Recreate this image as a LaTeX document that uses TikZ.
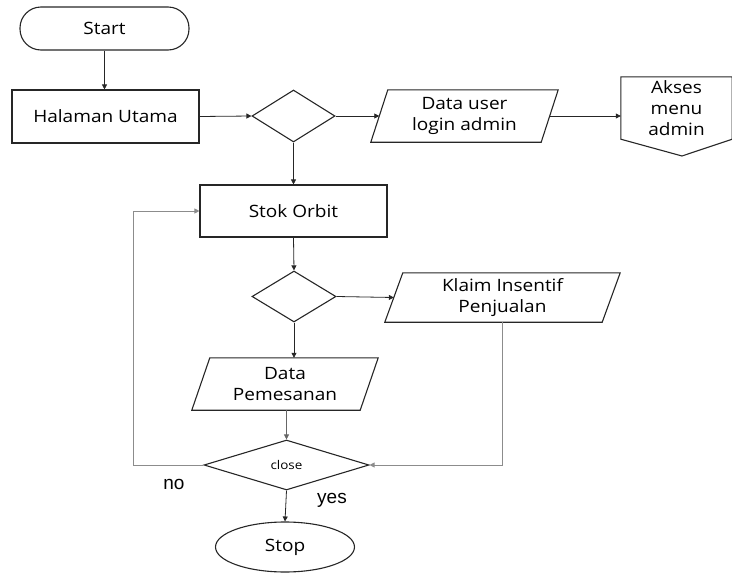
\documentclass[tikz,border=0pt]{standalone}
\usepackage{fontspec}
\setmainfont{Open Sans}[FakeStretch=1.12]
\newfontfamily\arialf{Liberation Sans}
\usetikzlibrary{shapes.geometric,arrows.meta}
\begin{document}
\begin{tikzpicture}[x=1pt,y=-1pt,
  every node/.style={font=\fontsize{17}{21}\selectfont, align=center, inner sep=0pt},
  shp/.style={draw=black!85, line width=1.1pt},
  conn/.style={draw=black!85, line width=0.8pt, -{Triangle[length=5pt,width=5pt]}},
  gconn/.style={draw=black!45, line width=0.8pt},
  dia/.style={shp, diamond},
  paratext/.style={rectangle}]
\useasboundingbox (0,0) rectangle (732,573);

\node[shp, rectangle, rounded corners=21pt, minimum width=169pt, minimum height=43pt] (start) at (104.5,28.5) {Start};
\node[shp, rectangle, minimum width=187pt, minimum height=53pt] (hal) at (105.5,116.5) {Halaman Utama};
\node[dia, minimum width=83pt, minimum height=52pt] (d1) at (293.5,116) {};

\node[paratext, minimum width=170pt, minimum height=52pt] (du) at (464.5,116) {Data user\\login admin};
\draw[shp] ([xshift=8.5pt]du.north west) -- ([xshift=8.5pt]du.north east) -- ([xshift=-8.5pt]du.south east) -- ([xshift=-8.5pt]du.south west) -- cycle;

\node[minimum width=111pt, minimum height=62pt] (akses) at (676.5,108) {Akses\\menu\\admin};
\draw[shp] (akses.north west) -- (akses.north east) -- (akses.south east) -- (682,156) -- (akses.south west) -- cycle;

\node[shp, rectangle, minimum width=187pt, minimum height=52pt] (stok) at (293.5,211) {Stok Orbit};
\node[dia, minimum width=84pt, minimum height=51pt] (d2) at (294,296.5) {};

\node[paratext, minimum width=217pt, minimum height=49pt] (klaim) at (502.5,297.5) {Klaim Insentif\\Penjualan};
\draw[shp] ([xshift=9pt]klaim.north west) -- ([xshift=9pt]klaim.north east) -- ([xshift=-9pt]klaim.south east) -- ([xshift=-9pt]klaim.south west) -- cycle;

\node[paratext, minimum width=168pt, minimum height=52pt] (dp) at (285,384) {Data\\Pemesanan};
\draw[shp] ([xshift=9pt]dp.north west) -- ([xshift=9pt]dp.north east) -- ([xshift=-9pt]dp.south east) -- ([xshift=-9pt]dp.south west) -- cycle;

\node[dia, minimum width=165pt, minimum height=50pt, font=\fontsize{12}{14}\selectfont] (close) at (286.5,465) {close};
\node[shp, ellipse, minimum width=139pt, minimum height=50pt] (stop) at (285,547) {Stop};

\node[font=\arialf\fontsize{19}{22}\selectfont] (no) at (174,484) {no};
\node[font=\arialf\fontsize{19}{22}\selectfont] (yes) at (332,500) {yes};

\draw[conn] (start.south) -- (start.south |- hal.north);
\draw[conn] (hal.east) -- (d1.west);
\draw[conn] (d1.east) -- (du.west);
\draw[conn] (du.east) -- (du.east -| akses.west);
\draw[conn] (d1.south) -- (stok.north);
\draw[conn] (stok.south) -- (d2.north);
\draw[conn] (d2.east) -- (klaim.west);
\draw[conn] (d2.south) -- (d2.south |- dp.north);
\draw[conn, draw=black!60] (close.north |- dp.south) -- (close.north);
\coordinate (loop) at (133,465);
\draw[gconn, -{Triangle[length=5pt,width=5pt]}] (close.west) -- (loop) |- (stok.west);
\draw[gconn, -{Triangle[length=5pt,width=5pt]}] (klaim.south) |- (close.east);
\draw[conn] (close.south) -- (stop.north);
\end{tikzpicture}
\end{document}
